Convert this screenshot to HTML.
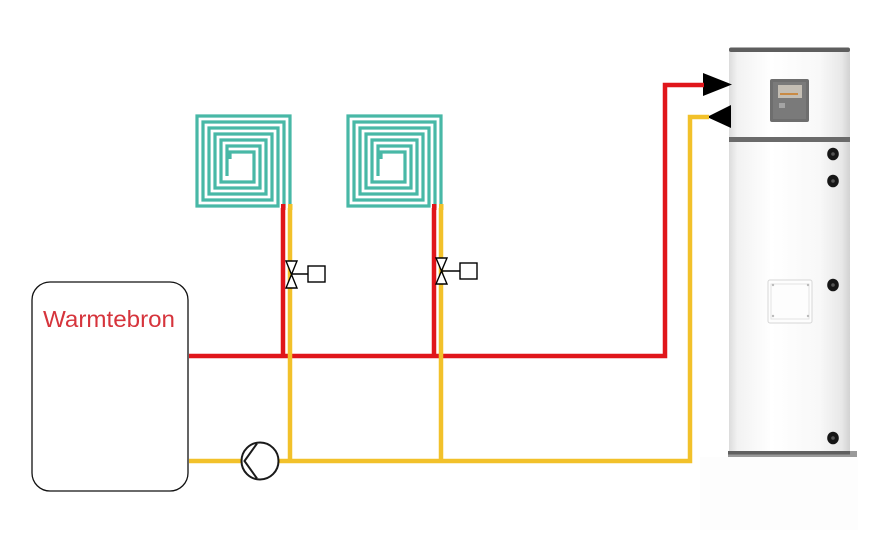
<!DOCTYPE html>
<html><head><meta charset="utf-8"><style>
html,body{margin:0;padding:0;background:#fff;}
svg{display:block;}
</style></head><body>
<svg width="894" height="541" viewBox="0 0 894 541" xmlns="http://www.w3.org/2000/svg">
<defs>
<linearGradient id="cyl" x1="0" x2="1" y1="0" y2="0">
<stop offset="0" stop-color="#dcdcdc"/>
<stop offset="0.07" stop-color="#f2f2f2"/>
<stop offset="0.35" stop-color="#ffffff"/>
<stop offset="0.75" stop-color="#f8f8f8"/>
<stop offset="0.93" stop-color="#e8e8e8"/>
<stop offset="1" stop-color="#d2d2d2"/>
</linearGradient>
</defs>
<rect width="894" height="541" fill="#fff"/>

<!-- faint floor area under tank -->
<rect x="700" y="457" width="158" height="73" fill="#fdfdfd"/>

<!-- Tank -->
<rect x="729" y="50" width="121" height="404" fill="url(#cyl)"/>
<rect x="729" y="47.5" width="121" height="4.5" rx="2" fill="#5e5e5e"/>
<rect x="729" y="137" width="121" height="5" fill="#6a6a6a"/>
<rect x="728" y="451" width="129" height="6" fill="#9a9a9a"/>
<rect x="728" y="451" width="122" height="3.5" fill="#606060"/>
<!-- panel -->
<rect x="770" y="79" width="39" height="43" rx="2" fill="#6e6e6e"/>
<rect x="773" y="82" width="33" height="37" fill="#7a7a7a"/>
<rect x="778" y="85" width="24" height="13" fill="#c4beb4"/>
<rect x="780" y="93" width="18" height="2" fill="#c98a44"/>
<rect x="779" y="103" width="6" height="5" fill="#a4a4a4"/>
<!-- knobs -->
<g fill="#161616">
<ellipse cx="833" cy="154" rx="5.8" ry="6.3"/><ellipse cx="833" cy="181" rx="5.8" ry="6.3"/>
<ellipse cx="833" cy="285" rx="5.8" ry="6.3"/><ellipse cx="833" cy="438" rx="5.8" ry="6.3"/>
</g>
<g fill="#555">
<circle cx="833" cy="154" r="1.8"/><circle cx="833" cy="181" r="1.8"/>
<circle cx="833" cy="285" r="1.8"/><circle cx="833" cy="438" r="1.8"/>
</g>
<!-- hatch -->
<rect x="768" y="280" width="44" height="43" rx="2" fill="#fdfdfd" stroke="#d6d6d6" stroke-width="1"/>
<rect x="771" y="284" width="38" height="35" fill="none" stroke="#e4e4e4" stroke-width="1"/>
<g fill="#bbb"><circle cx="773" cy="285" r="1.2"/><circle cx="808" cy="285" r="1.2"/><circle cx="773" cy="316" r="1.2"/><circle cx="808" cy="316" r="1.2"/></g>

<!-- Arrows -->
<polygon points="703,73 732,84.5 703,96" fill="#000"/>
<polygon points="731,105 707,117 731,128" fill="#000"/>

<!-- Red pipes -->
<g stroke="#e0161b" stroke-width="4.5" fill="none" stroke-linejoin="miter">
<polyline points="189,356 665,356 665,85 704,85"/>
<line x1="283" y1="208" x2="283" y2="356"/>
<line x1="434" y1="208" x2="434" y2="356"/>
</g>
<!-- Yellow pipes -->
<g stroke="#f2c12a" stroke-width="4.5" fill="none" stroke-linejoin="miter">
<polyline points="189,461 690,461 690,117 709,117"/>
<line x1="290" y1="208" x2="290" y2="461"/>
<line x1="441" y1="208" x2="441" y2="461"/>
</g>

<!-- Coils -->
<g stroke="#48b8a6" stroke-width="3.2" fill="none" stroke-linejoin="miter">
<polyline points="290,208 290,116 197,116 197,206 278,206 278,128 209,128 209,194 266,194 266,140 221,140 221,182 254,182 254,152 230,152 230,159"/>
<polyline points="284,208 284,122 203,122 203,200 272,200 272,134 215,134 215,188 260,188 260,146 227,146 227,176"/>
</g>
<g transform="translate(151,0)" stroke="#48b8a6" stroke-width="3.2" fill="none">
<polyline points="290,208 290,116 197,116 197,206 278,206 278,128 209,128 209,194 266,194 266,140 221,140 221,182 254,182 254,152 230,152 230,159"/>
<polyline points="284,208 284,122 203,122 203,200 272,200 272,134 215,134 215,188 260,188 260,146 227,146 227,176"/>
</g>
<!-- coil exit stubs -->
<rect x="281" y="204" width="4.5" height="6" fill="#e0161b"/>
<rect x="288" y="204" width="4.5" height="6" fill="#f2c12a"/>
<rect x="432" y="204" width="4.5" height="6" fill="#e0161b"/>
<rect x="439" y="204" width="4.5" height="6" fill="#f2c12a"/>

<!-- Valves -->
<g stroke="#000" stroke-width="1.4" fill="#fff">
<polygon points="286,261 297,261 291.5,274.5 297,288 286,288 291.5,274.5"/>
<line x1="291.5" y1="274" x2="308" y2="274"/>
<rect x="308" y="266" width="17" height="16"/>
<polygon points="436,258 447,258 441.5,271 447,284 436,284 441.5,271"/>
<line x1="441.5" y1="271" x2="460" y2="271"/>
<rect x="460" y="263" width="17" height="16"/>
</g>

<!-- Pump -->
<circle cx="260" cy="461" r="18.5" fill="#fff" stroke="#1a1a1a" stroke-width="2"/>
<polyline points="257,443.5 244.5,461 257,478.5" fill="none" stroke="#1a1a1a" stroke-width="2"/>

<!-- Warmtebron box -->
<rect x="32" y="282" width="156" height="209" rx="18" ry="18" fill="#fff" stroke="#111" stroke-width="1.3"/>
<text x="43" y="327" font-family="Liberation Sans, sans-serif" font-size="23" fill="#d6343c" textLength="132" lengthAdjust="spacingAndGlyphs">Warmtebron</text>
</svg>
</body></html>
